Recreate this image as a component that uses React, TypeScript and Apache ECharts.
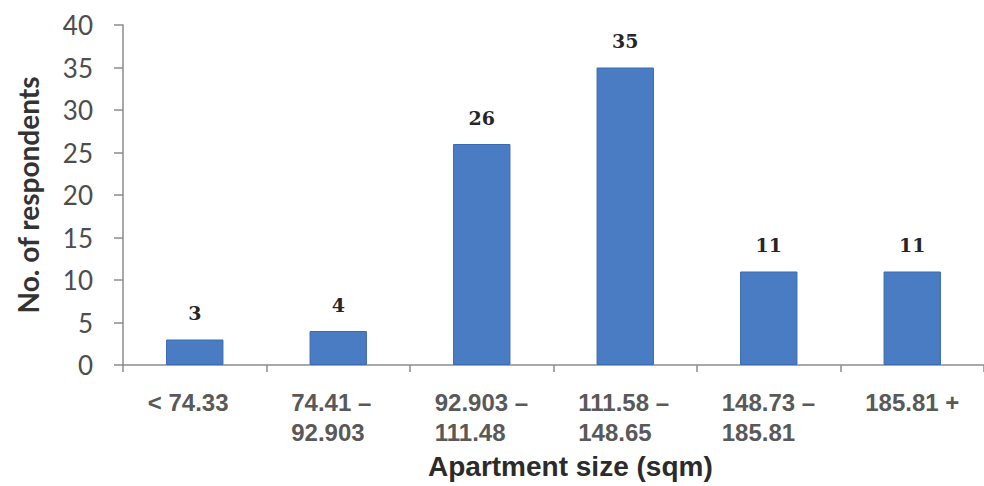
import React, { useEffect, useRef } from "react";
import * as echarts from "echarts";

const categories = ["< 74.33", "74.41 –\n92.903", "92.903 –\n111.48", "111.58 –\n148.65", "148.73 –\n185.81", "185.81 +"];
const respondents = [3, 4, 26, 35, 11, 11];
const yTicks = { min: 0, max: 40, interval: 5 };
const xTitle = "Apartment size (sqm)";
const yTitle = "No. of respondents";

export default function App() {
  const ref = useRef<HTMLDivElement>(null);
  useEffect(() => {
    if (!ref.current) return;
    const chart = echarts.init(ref.current, null, { renderer: "svg" });
    chart.setOption({
      animation: false,
      backgroundColor: "#ffffff",
      grid: { left: 123, top: 25, bottom: 121, width: 870 },
      xAxis: {
        type: "category",
        data: categories,
        boundaryGap: true,
        axisLine: { lineStyle: { color: "#8c8c8c", width: 1.5 } },
        axisTick: { show: true, length: 7, lineStyle: { color: "#8c8c8c", width: 1.5 } },
        axisLabel: {
          interval: 0,
          margin: 22,
          fontFamily: "Liberation Sans",
          fontWeight: 700,
          fontSize: 24,
          lineHeight: 30,
          color: "#595959",
          formatter: (v: string) => v.split("\n").map((s) => `{l|${s}}`).join("\n"),
          rich: {
            l: {
              width: 94,
              align: "left",
              fontFamily: "Liberation Sans",
              fontWeight: 700,
              fontSize: 24,
              lineHeight: 30,
              color: "#595959",
            },
          },
        },
        splitLine: { show: false },
      },
      yAxis: {
        type: "value",
        min: yTicks.min,
        max: yTicks.max,
        interval: yTicks.interval,
        axisLine: { show: true, lineStyle: { color: "#8c8c8c", width: 1.5 } },
        axisTick: { show: true, length: 9, lineStyle: { color: "#8c8c8c", width: 1.5 } },
        axisLabel: {
          margin: 30,
          fontFamily: "Lato",
          fontSize: 26,
          color: "#4d4d4d",
        },
        splitLine: { show: false },
      },
      series: [
        {
          type: "bar",
          data: respondents,
          barWidth: "40%",
          itemStyle: { color: "#4a7cc3", borderColor: "#3c6aae", borderWidth: 1 },
          label: {
            show: true,
            position: "top",
            distance: 17,
            fontFamily: "DejaVu Serif",
            fontWeight: 600,
            fontSize: 19,
            color: "#262626",
          },
        },
      ],
      graphic: [
        {
          type: "text",
          left: 573 - 145,
          top: 452,
          style: {
            text: xTitle,
            fontFamily: "Liberation Sans",
            fontWeight: "bold",
            fontSize: 28,
            fill: "#2b2b2b",
          },
        },
        {
          type: "text",
          x: 28,
          y: 195,
          rotation: Math.PI / 2,
          style: {
            text: yTitle,
            fontFamily: "Lato",
            fontWeight: "bold",
            fontSize: 28,
            fill: "#333333",
            align: "center",
            verticalAlign: "middle",
          },
        },
      ],
    });
    return () => chart.dispose();
  }, []);
  return <div ref={ref} style={{ width: 984, height: 486, position: "absolute", left: 0, top: 0 }} />;
}
